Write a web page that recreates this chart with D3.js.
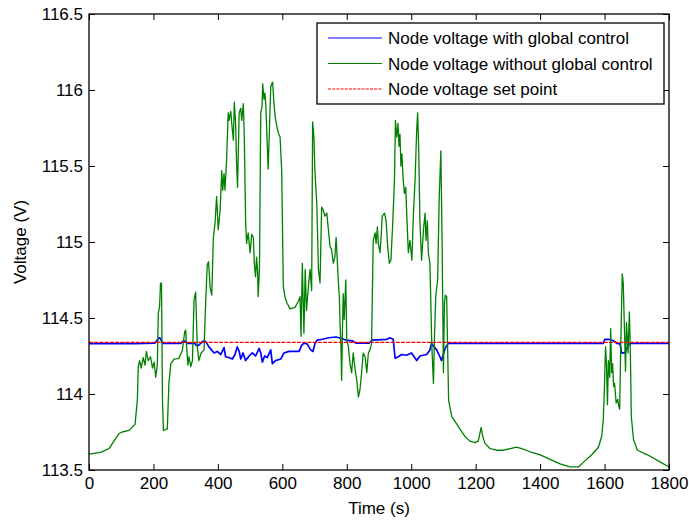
<!DOCTYPE html>
<html>
<head>
<meta charset="utf-8">
<script src="https://cdn.jsdelivr.net/npm/d3@7/dist/d3.min.js"></script>
<style>
  html, body { margin: 0; padding: 0; background: #fff; }
  svg { display: block; font-family: "Liberation Sans", Arial, Helvetica, sans-serif; }
</style>
</head>
<body>
<svg id="chart" width="689" height="523"></svg>
<script>
// ---------- DATA ----------
const greenTime = [0,36,62,93,103,124,143,150,153,157,162,168,174,178,184,191,197,202,207,212,215,219,222,225,228,231,243,248,254,264,279,290,297,300,303,307,310,316,321,326,331,336,341,348,357,362,367,371,376,381,386,391,396,401,407,412,415,419,422,427,432,435,440,443,448,451,455,458,461,466,471,474,479,482,486,489,494,500,505,510,513,517,520,523,525,529,533,537,539,543,546,549,553,556,560,564,567,570,574,578,583,588,593,598,603,608,614,624,639,650,655,658,662,667,671,675,681,686,691,694,698,701,707,712,717,722,727,732,738,743,748,753,758,763,767,771,774,777,779,782,784,787,789,792,797,800,805,810,815,820,826,831,836,841,846,851,857,862,867,872,877,882,888,891,895,898,903,906,910,917,922,927,932,937,943,948,951,955,959,962,965,968,971,975,979,983,986,991,996,1002,1007,1012,1017,1020,1023,1027,1032,1038,1043,1046,1050,1053,1058,1064,1069,1072,1076,1082,1087,1092,1096,1100,1103,1106,1110,1113,1116,1126,1136,1151,1167,1182,1198,1208,1213,1217,1222,1229,1245,1265,1286,1307,1327,1343,1369,1400,1431,1462,1493,1519,1534,1560,1581,1591,1596,1600,1603,1606,1609,1612,1616,1619,1622,1625,1628,1631,1636,1641,1644,1647,1650,1655,1658,1661,1665,1668,1673,1677,1680,1683,1690,1702,1733,1775,1800];
const greenVolt = [113.605,113.616,113.64,113.74,113.75,113.76,113.80,113.96,114.18,114.22,114.17,114.24,114.19,114.28,114.22,114.245,114.17,114.21,114.11,114.19,114.53,114.575,114.73,114.73,113.96,113.76,113.77,114.07,114.20,114.23,114.235,114.29,114.41,114.42,114.31,114.19,114.245,114.18,114.22,114.62,114.67,114.31,114.22,114.27,114.29,114.60,114.85,114.87,114.70,114.65,115.03,115.12,115.30,115.08,115.21,115.47,115.34,115.45,115.34,115.54,115.85,115.80,115.86,115.78,115.67,115.92,115.78,115.52,115.36,115.85,115.88,115.80,115.91,115.69,115.14,114.99,115.06,114.93,115.05,115.03,114.86,114.77,114.90,114.82,114.64,114.82,115.85,115.89,116.04,115.94,115.98,115.89,115.65,115.48,115.74,116.02,116.04,116.05,115.91,115.82,115.76,115.715,115.69,115.47,114.71,114.64,114.60,114.56,114.57,114.61,114.64,114.38,114.86,114.40,114.82,114.55,114.71,114.82,114.68,115.79,115.69,115.47,115.25,114.82,114.73,115.23,115.21,115.17,115.19,115.08,114.97,114.95,114.86,114.90,115.03,114.86,114.73,114.64,114.47,114.31,114.09,114.47,114.66,114.49,114.75,114.36,114.31,114.20,114.14,114.27,114.16,114.09,113.98,114.03,114.14,114.27,114.245,114.14,114.27,114.29,114.33,115.01,115.06,114.99,115.10,114.99,114.93,115.01,115.17,115.19,115.14,114.97,114.86,114.88,115.14,115.41,115.80,115.69,115.78,115.63,115.71,115.50,115.58,115.41,115.32,115.36,115.19,114.93,115.01,114.88,115.19,115.41,115.74,115.85,115.63,115.14,114.88,115.08,115.19,115.01,115.14,114.93,114.86,114.31,114.07,114.36,114.64,114.75,115.30,115.60,114.97,114.14,114.60,114.65,114.64,114.30,113.96,113.85,113.82,113.77,113.72,113.69,113.68,113.69,113.74,113.78,113.72,113.675,113.64,113.63,113.63,113.64,113.65,113.64,113.62,113.60,113.57,113.54,113.52,113.52,113.55,113.60,113.65,113.72,113.83,114.07,114.31,114.20,113.93,114.22,114.11,114.43,114.14,114.20,114.05,114.07,113.94,113.965,113.92,113.90,114.29,114.79,114.73,114.49,114.15,114.47,114.27,114.54,114.29,113.85,113.70,113.63,113.60,113.55,113.52];

const blueTime = [0,140,205,212,218,222,228,285,293,300,305,328,333,340,350,357,364,372,380,388,398,409,419,424,434,445,453,460,466,471,478,486,497,507,517,528,533,538,545,553,564,569,579,595,605,621,652,660,667,677,688,695,701,708,724,745,766,776,797,817,828,869,879,924,934,944,950,960,970,985,1001,1017,1027,1048,1058,1063,1071,1079,1089,1094,1105,1115,1596,1601,1612,1628,1638,1648,1653,1663,1669,1679,1800];
const blueVolt = [114.332,114.332,114.335,114.355,114.37,114.365,114.333,114.333,114.35,114.345,114.333,114.333,114.32,114.32,114.34,114.35,114.34,114.31,114.29,114.27,114.28,114.26,114.305,114.245,114.24,114.23,114.26,114.31,114.28,114.23,114.27,114.22,114.25,114.27,114.25,114.30,114.27,114.21,114.25,114.24,114.29,114.20,114.22,114.23,114.27,114.28,114.28,114.32,114.335,114.33,114.29,114.28,114.33,114.355,114.36,114.37,114.375,114.37,114.355,114.35,114.335,114.335,114.355,114.36,114.37,114.36,114.235,114.245,114.26,114.255,114.27,114.22,114.25,114.26,114.29,114.333,114.31,114.29,114.245,114.22,114.30,114.333,114.333,114.36,114.36,114.35,114.333,114.33,114.27,114.27,114.30,114.333,114.333];

const setPoint = 114.34;
const timeRange = [0, 1800];

const xTicks = [0,200,400,600,800,1000,1200,1400,1600,1800];
const yTicks = [113.5,114,114.5,115,115.5,116,116.5];
const yTickLabels = ["113.5","114","114.5","115","115.5","116","116.5"];

const seriesNames = ["Node voltage with global control","Node voltage without global control","Node voltage set point"];
const xTitle = "Time (s)";
const yTitle = "Voltage (V)";

// ---------- LAYOUT ----------
const L = 89, R = 669, T = 14, B = 470;
const svg = d3.select("#chart");
const x = d3.scaleLinear().domain([0,1800]).range([L,R]);
const y = d3.scaleLinear().domain([113.5,116.5]).range([B,T]);
const FS = 17;

// axes
const tick = 6;
const gL = svg.append("g").attr("transform",`translate(${L},0)`)
  .call(d3.axisLeft(y).tickValues(yTicks).tickFormat((d,i)=>yTickLabels[i]).tickSizeInner(-tick).tickSizeOuter(0).tickPadding(6));
const gB = svg.append("g").attr("transform",`translate(0,${B})`)
  .call(d3.axisBottom(x).tickValues(xTicks).tickFormat(d3.format("d")).tickSizeInner(-tick).tickSizeOuter(0).tickPadding(7));
const gR = svg.append("g").attr("transform",`translate(${R},0)`)
  .call(d3.axisRight(y).tickValues(yTicks).tickFormat("").tickSizeInner(-tick).tickSizeOuter(0));
const gT = svg.append("g").attr("transform",`translate(0,${T})`)
  .call(d3.axisTop(x).tickValues(xTicks).tickFormat("").tickSizeInner(-tick).tickSizeOuter(0));
[gL,gB,gR,gT].forEach(g=>{
  g.select(".domain").remove();
  g.selectAll("line").attr("stroke","#000").attr("stroke-width",1);
  g.selectAll("text").attr("font-size",FS).attr("fill","#000").attr("font-family",null);
});

// lines
const line = (ts,vs) => d3.line().x((d,i)=>x(ts[i])).y((d,i)=>y(vs[i]))(ts);
svg.append("path").attr("d",line(blueTime,blueVolt)).attr("fill","none").attr("stroke","#0000ff").attr("stroke-width",1.7).attr("stroke-linejoin","round");
svg.append("path").attr("d",line(greenTime,greenVolt)).attr("fill","none").attr("stroke","#008000").attr("stroke-width",1.3).attr("stroke-linejoin","round");
svg.append("line").attr("x1",x(timeRange[0])).attr("x2",x(timeRange[1])).attr("y1",y(setPoint)).attr("y2",y(setPoint))
  .attr("stroke","#ff0000").attr("stroke-width",1.3).attr("stroke-dasharray","4,1.2");

// frame
svg.append("rect").attr("x",L).attr("y",T).attr("width",R-L).attr("height",B-T)
  .attr("fill","none").attr("stroke","#000").attr("stroke-width",1.3);

// titles
svg.append("text").attr("x",(L+R)/2).attr("y",514).attr("text-anchor","middle").attr("font-size",FS).text(xTitle);
svg.append("text").attr("transform",`translate(26,${(T+B)/2}) rotate(-90)`).attr("text-anchor","middle").attr("font-size",FS).text(yTitle);

// legend
const lg = svg.append("g");
lg.append("rect").attr("x",317).attr("y",23).attr("width",347).attr("height",81).attr("fill","#fff").attr("stroke","#000").attr("stroke-width",1.3);
const colors = ["#0000ff","#008000","#ff0000"];
const dashes = [null,null,"3,1.2"];
seriesNames.forEach((n,i)=>{
  const cy = 38 + i*25.5;
  lg.append("line").attr("x1",328).attr("x2",382).attr("y1",cy).attr("y2",cy)
    .attr("stroke",colors[i]).attr("stroke-width",1).attr("stroke-dasharray",dashes[i]);
  lg.append("text").attr("x",388).attr("y",cy+6).attr("font-size",FS).text(n);
});
</script>
</body>
</html>
